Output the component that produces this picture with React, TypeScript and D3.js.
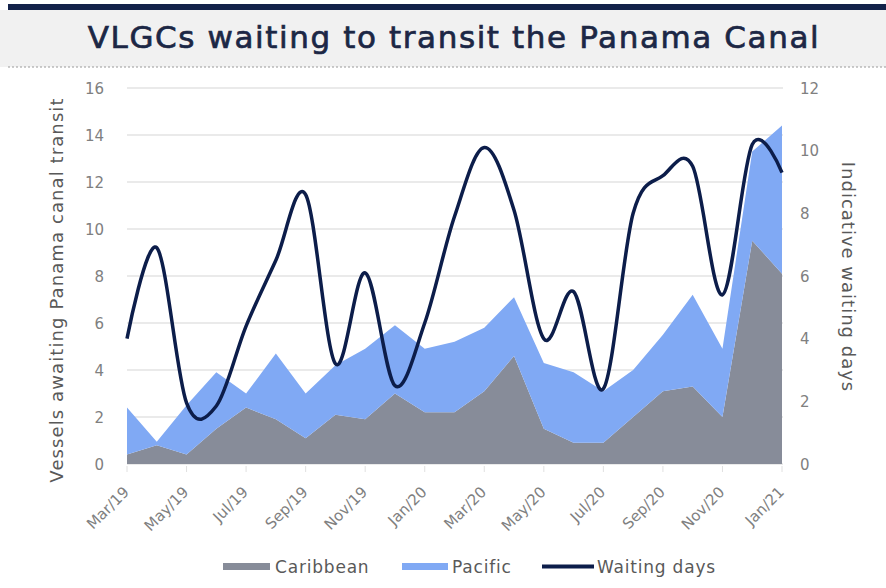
import React from "react";
import * as d3 from "d3";

const months = [
  "Mar/19", "Apr/19", "May/19", "Jun/19", "Jul/19", "Aug/19", "Sep/19", "Oct/19", "Nov/19", "Dec/19",
  "Jan/20", "Feb/20", "Mar/20", "Apr/20", "May/20", "Jun/20", "Jul/20", "Aug/20", "Sep/20", "Oct/20",
  "Nov/20", "Dec/20", "Jan/21",
];
const caribbean = [0.4, 0.8, 0.4, 1.5, 2.4, 1.9, 1.1, 2.1, 1.9, 3.0, 2.2, 2.2, 3.1, 4.6, 1.5, 0.9, 0.9, 2.0, 3.1, 3.3, 2.0, 9.5, 8.1];
const pacific = [2.0, 0.15, 2.1, 2.4, 0.6, 2.8, 1.9, 2.1, 3.0, 2.9, 2.7, 3.0, 2.7, 2.5, 2.8, 3.0, 2.2, 2.0, 2.4, 3.9, 2.9, 3.8, 6.3];
const waitingDays = [4.0, 6.9, 1.95, 1.85, 4.4, 6.5, 8.6, 3.2, 6.1, 2.5, 4.5, 7.9, 10.1, 8.1, 4.0, 5.5, 2.4, 8.0, 9.2, 9.5, 5.4, 10.2, 9.3];
const leftTicks = [0, 2, 4, 6, 8, 10, 12, 14, 16];
const rightTicks = [0, 2, 4, 6, 8, 10, 12];
const xTickLabels = months.filter((_, i) => i % 2 === 0);

const FONT = "'DejaVu Sans', sans-serif";

export default function App() {
  const W = 886, H = 588;
  const x0 = 127, x1 = 782, yTop = 88, yBot = 464;
  const x = d3.scalePoint<string>().domain(months).range([x0, x1]);
  const yL = d3.scaleLinear().domain([0, 16]).range([yBot, yTop]);
  const yR = d3.scaleLinear().domain([0, 12]).range([yBot, yTop]);

  const data = months.map((m, i) => ({ m, c: caribbean[i], p: pacific[i], w: waitingDays[i] }));

  const areaC = d3.area<typeof data[0]>()
    .x(d => x(d.m)!)
    .y0(yL(0))
    .y1(d => yL(d.c));
  const areaP = d3.area<typeof data[0]>()
    .x(d => x(d.m)!)
    .y0(d => yL(d.c))
    .y1(d => yL(d.c + d.p));
  const line = d3.line<typeof data[0]>()
    .x(d => x(d.m)!)
    .y(d => yR(d.w))
    .curve(d3.curveCatmullRom.alpha(0));

  const navy = "#0c1d4a";
  const gray = "#878c99";
  const blue = "#80a9f4";

  return (
    <div style={{ position: "absolute", left: 0, top: 0 }}>
      <svg width={W} height={H} style={{ display: "block", background: "#ffffff" }}>
        <rect x={0} y={10} width={W} height={57} fill="#f1f1f1" />
        <rect x={8} y={4} width={W - 8} height={6} fill="#13224a" />
        <line x1={8} x2={W} y1={67} y2={67} stroke="#9a9a9a" strokeWidth={1.2} strokeDasharray="2,2" />
        <text x={454} y={48} textAnchor="middle" fontFamily={FONT} fontSize={31} fill="#1c2745"
          stroke="#1c2745" strokeWidth={0.7} letterSpacing={1.6}>
          VLGCs waiting to transit the Panama Canal
        </text>

        {leftTicks.map(t => (
          <line key={"g" + t} x1={x0} x2={x1 + 1} y1={yL(t)} y2={yL(t)} stroke="#e3e3e3" strokeWidth={1.5} />
        ))}

        <path d={areaC(data)!} fill={gray} />
        <path d={areaP(data)!} fill={blue} />
        <path d={line(data)!} fill="none" stroke={navy} strokeWidth={3.5} strokeLinejoin="round" />

        {xTickLabels.map(m => (
          <line key={"t" + m} x1={x(m)!} x2={x(m)!} y1={yBot + 2} y2={yBot + 8} stroke="#e0e0e0" strokeWidth={1} />
        ))}

        {leftTicks.map(t => (
          <text key={"l" + t} x={104} y={yL(t) + 5.5} textAnchor="end" fontFamily={FONT} fontSize={15} fill="#808080">
            {t}
          </text>
        ))}
        {rightTicks.map(t => (
          <text key={"r" + t} x={800} y={yR(t) + 5.5} textAnchor="start" fontFamily={FONT} fontSize={15} fill="#808080">
            {t}
          </text>
        ))}
        {xTickLabels.map(m => (
          <text key={"x" + m} transform={`translate(${x(m)! + 3},${yBot + 29}) rotate(-45)`} textAnchor="end"
            fontFamily={FONT} fontSize={15} fill="#808080">
            {m}
          </text>
        ))}

        <text transform={`translate(63,290) rotate(-90)`} textAnchor="middle"
          fontFamily={FONT} fontSize={18} letterSpacing={1.1} fill="#595959">
          Vessels awaiting Panama canal transit
        </text>
        <text transform={`translate(842,277) rotate(90)`} textAnchor="middle"
          fontFamily={FONT} fontSize={18} letterSpacing={1} fill="#595959">
          Indicative waiting days
        </text>

        <rect x={223} y={563} width={47} height={7} fill={gray} />
        <text x={275} y={573} fontFamily={FONT} fontSize={17} letterSpacing={0.8} fill="#595959">Caribbean</text>
        <rect x={402} y={563} width={46} height={7} fill={blue} />
        <text x={452} y={573} fontFamily={FONT} fontSize={17} letterSpacing={0.8} fill="#595959">Pacific</text>
        <line x1={542} x2={594} y1={566.5} y2={566.5} stroke={navy} strokeWidth={4} />
        <text x={597} y={573} fontFamily={FONT} fontSize={17} letterSpacing={0.8} fill="#595959">Waiting days</text>
      </svg>
    </div>
  );
}
